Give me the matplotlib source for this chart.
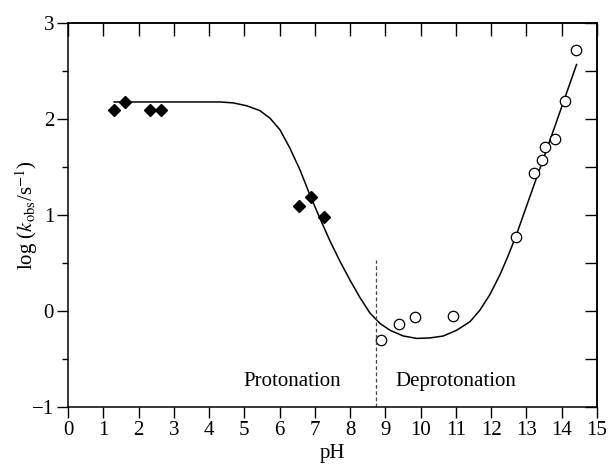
import numpy as np
import matplotlib
matplotlib.use("Agg")
import matplotlib.pyplot as plt
from matplotlib.ticker import MultipleLocator

plt.rcParams['font.family'] = ['Liberation Serif', 'DejaVu Serif']
plt.rcParams['mathtext.fontset'] = 'stix'

# protonation side (filled diamonds)
ph_prot = [1.31, 1.62, 2.32, 2.63, 6.56, 6.89, 7.26]
logk_prot = [2.10, 2.18, 2.10, 2.10, 1.10, 1.19, 0.98]

# deprotonation side (open circles)
ph_deprot = [8.87, 9.38, 9.84, 10.92, 12.70, 13.21, 13.43, 13.52, 13.82, 14.10, 14.40]
logk_deprot = [-0.30, -0.13, -0.06, -0.05, 0.77, 1.44, 1.57, 1.71, 1.79, 2.19, 2.72]

# fitted curve
ph_fit = [1.31, 2.5, 3.5, 4.31, 4.69, 5.07, 5.44, 5.73, 6.01, 6.29, 6.58, 6.86,
          7.14, 7.43, 7.71, 8.00, 8.28, 8.56, 8.85, 9.13, 9.51, 9.89, 10.26,
          10.64, 11.02, 11.40, 11.68, 11.96, 12.25, 12.45, 12.70, 13.2, 13.8, 14.42]
logk_fit = [2.18, 2.18, 2.18, 2.18, 2.17, 2.14, 2.09, 2.01, 1.89, 1.70, 1.47, 1.21,
            0.97, 0.73, 0.52, 0.32, 0.14, -0.02, -0.13, -0.20, -0.26, -0.285, -0.28,
            -0.26, -0.20, -0.11, 0.01, 0.17, 0.38, 0.55, 0.78, 1.30, 1.92, 2.57]

boundary_ph = 8.72

fig = plt.figure(figsize=(6.08, 4.68), dpi=100)
ax = fig.add_axes([68/608, 61/468, 529/608, 383.7/468])

ax.plot(ph_fit, logk_fit, color='black', lw=1.1, solid_joinstyle='round')
ax.plot(ph_prot, logk_prot, 'D', color='black', ms=6.5)
ax.plot(ph_deprot, logk_deprot, 'o', mfc='white', mec='black', mew=0.9, ms=7.5)
ax.plot([boundary_ph, boundary_ph], [-1, 0.53], color='#444444', lw=0.9, ls=(0, (3, 2)))

ax.text(6.35, -0.73, 'Protonation', ha='center', va='center', fontsize=15)
ax.text(11.0, -0.73, 'Deprotonation', ha='center', va='center', fontsize=15)

ax.set_xlim(0, 15)
ax.set_ylim(-1, 3)
ax.xaxis.set_major_locator(MultipleLocator(1))
ax.yaxis.set_major_locator(MultipleLocator(1))
ax.yaxis.set_minor_locator(MultipleLocator(0.5))
ax.tick_params(axis='x', direction='out', length=8, width=1, labelsize=15, pad=2)
ax.tick_params(axis='y', which='major', direction='out', length=8, width=1, labelsize=15, pad=2)
ax.tick_params(axis='y', which='minor', direction='out', length=4, width=1)

top = ax.secondary_xaxis('top')
top.xaxis.set_major_locator(MultipleLocator(1))
top.tick_params(direction='in', length=9, width=1, labeltop=False)
right = ax.secondary_yaxis('right')
right.yaxis.set_major_locator(MultipleLocator(0.5))
right.tick_params(direction='in', length=9, width=1, labelright=False)

for sp in list(ax.spines.values()) + [top.spines['top'], right.spines['right']]:
    sp.set_linewidth(1.1)

ax.set_xlabel('pH', fontsize=15, labelpad=3)
ax.set_ylabel(r'log ($k_{\rm obs}$/s$^{-1}$)', fontsize=15, labelpad=-6)

fig.savefig('out.png', dpi=100)
